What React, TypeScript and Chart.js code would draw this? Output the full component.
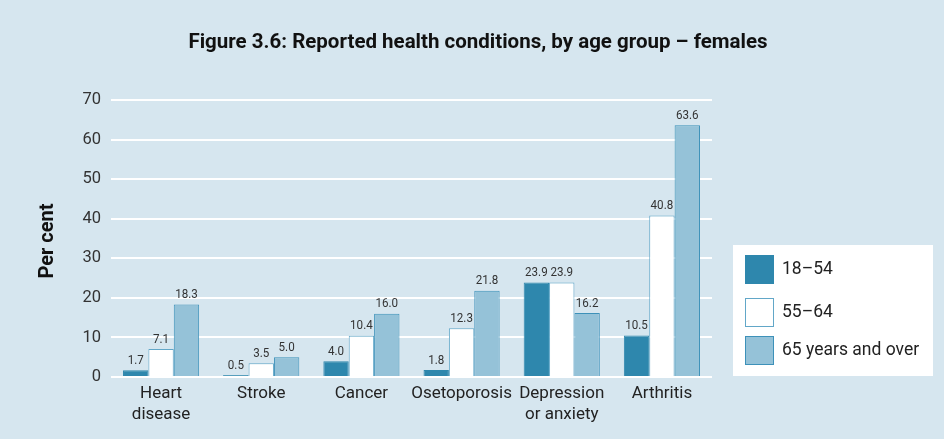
import React, { useEffect, useRef } from "react";
import { Chart, registerables } from "chart.js";

Chart.register(...registerables);

const categories: (string | string[])[] = [
  ["Heart", "disease"],
  "Stroke",
  "Cancer",
  "Osetoporosis",
  ["Depression", "or anxiety"],
  "Arthritis",
];
const seriesNames = ["18–54", "55–64", "65 years and over"];
const age18to54 = [1.7, 0.5, 4.0, 1.8, 23.9, 10.5];
const age55to64 = [7.1, 3.5, 10.4, 12.3, 23.9, 40.8];
const age65plus = [18.3, 5.0, 16.0, 21.8, 16.2, 63.6];
const yTicks = [0, 10, 20, 30, 40, 50, 60, 70];

const titleText = "Figure 3.6: Reported health conditions, by age group – females";
const yTitle = "Per cent";

const BG = "#d6e6ef";
const FONT = "Roboto, 'DejaVu Sans', sans-serif";
const fills = ["#2e87ad", "#ffffff", "#95c2d8"];
const borders = ["#2e87ad", "#62a7c8", "#3d91b9"];

export default function App() {
  const ref = useRef<HTMLCanvasElement | null>(null);

  useEffect(() => {
    if (!ref.current) return;
    const extras = {
      id: "extras",
      afterDatasetsDraw(chart: any) {
        const ctx = chart.ctx;
        ctx.save();
        ctx.font = `13.5px ${FONT}`;
        ctx.fillStyle = "#333333";
        ctx.textAlign = "center";
        ctx.textBaseline = "bottom";
        chart.data.datasets.forEach((ds: any, di: number) => {
          const meta = chart.getDatasetMeta(di);
          meta.data.forEach((el: any, i: number) => {
            ctx.save();
            ctx.translate(el.x, el.y - 3);
            ctx.scale(0.86, 1);
            ctx.fillText(Number(ds.data[i]).toFixed(1), 0, 0);
            ctx.restore();
          });
        });
        ctx.restore();
      },
      afterDraw(chart: any) {
        const ctx = chart.ctx;
        ctx.save();
        // title
        ctx.font = `bold 20.5px ${FONT}`;
        ctx.fillStyle = "#111111";
        ctx.textAlign = "center";
        ctx.textBaseline = "middle";
        ctx.fillText(titleText, 478, 43);
        // y title
        ctx.save();
        ctx.translate(48, 241);
        ctx.rotate(-Math.PI / 2);
        ctx.font = `bold 20px ${FONT}`;
        ctx.fillText(yTitle, 0, 0);
        ctx.restore();
        // legend
        ctx.fillStyle = "#ffffff";
        ctx.fillRect(733, 245, 200, 131);
        const rows = [255, 298, 336];
        chart.data.datasets.forEach((ds: any, di: number) => {
          const y = rows[di];
          ctx.fillStyle = fills[di];
          ctx.fillRect(745, y, 29, 29);
          ctx.strokeStyle = borders[di];
          ctx.lineWidth = 1;
          ctx.strokeRect(745.5, y + 0.5, 28, 28);
          ctx.fillStyle = "#222222";
          ctx.font = `17.5px ${FONT}`;
          ctx.textAlign = "left";
          ctx.textBaseline = "middle";
          ctx.fillText(ds.label, 782, y + 15);
        });
        ctx.restore();
      },
    };

    const chart = new Chart(ref.current, {
      type: "bar",
      data: {
        labels: categories,
        datasets: [age18to54, age55to64, age65plus].map((d, i) => ({
          label: seriesNames[i],
          data: d,
          backgroundColor: fills[i],
          borderColor: borders[i],
          borderWidth: 1,
          categoryPercentage: 0.76,
          barPercentage: 1,
        })),
      },
      options: {
        responsive: false,
        animation: false,
        layout: { padding: { top: 100, right: 232, bottom: 0, left: 0 } },
        plugins: {
          legend: { display: false },
          title: { display: false },
          tooltip: { enabled: false },
        },
        scales: {
          x: {
            grid: { display: false, drawTicks: false },
            border: { display: false },
            ticks: {
              padding: 7,
              color: "#222222",
              font: { family: FONT, size: 17, lineHeight: 1.2 },
              maxRotation: 0,
              autoSkip: false,
            },
            afterFit(scale: any) {
              scale.height = 62;
            },
          },
          y: {
            min: 0,
            max: 70,
            afterBuildTicks(scale: any) {
              scale.ticks = yTicks.map((v) => ({ value: v }));
            },
            grid: { color: "#ffffff", lineWidth: 2, drawTicks: false },
            border: { display: false },
            ticks: {
              padding: 10,
              color: "#333333",
              font: { family: FONT, size: 16.5 },
            },
            afterFit(scale: any) {
              scale.width = 111;
            },
          },
        },
      },
      plugins: [extras],
    } as any);
    return () => chart.destroy();
  }, []);

  return (
    <div
      style={{
        position: "absolute",
        left: 0,
        top: 0,
        width: 944,
        height: 439,
        background: BG,
      }}
    >
      <canvas ref={ref} width={944} height={439} style={{ display: "block" }} />
    </div>
  );
}
